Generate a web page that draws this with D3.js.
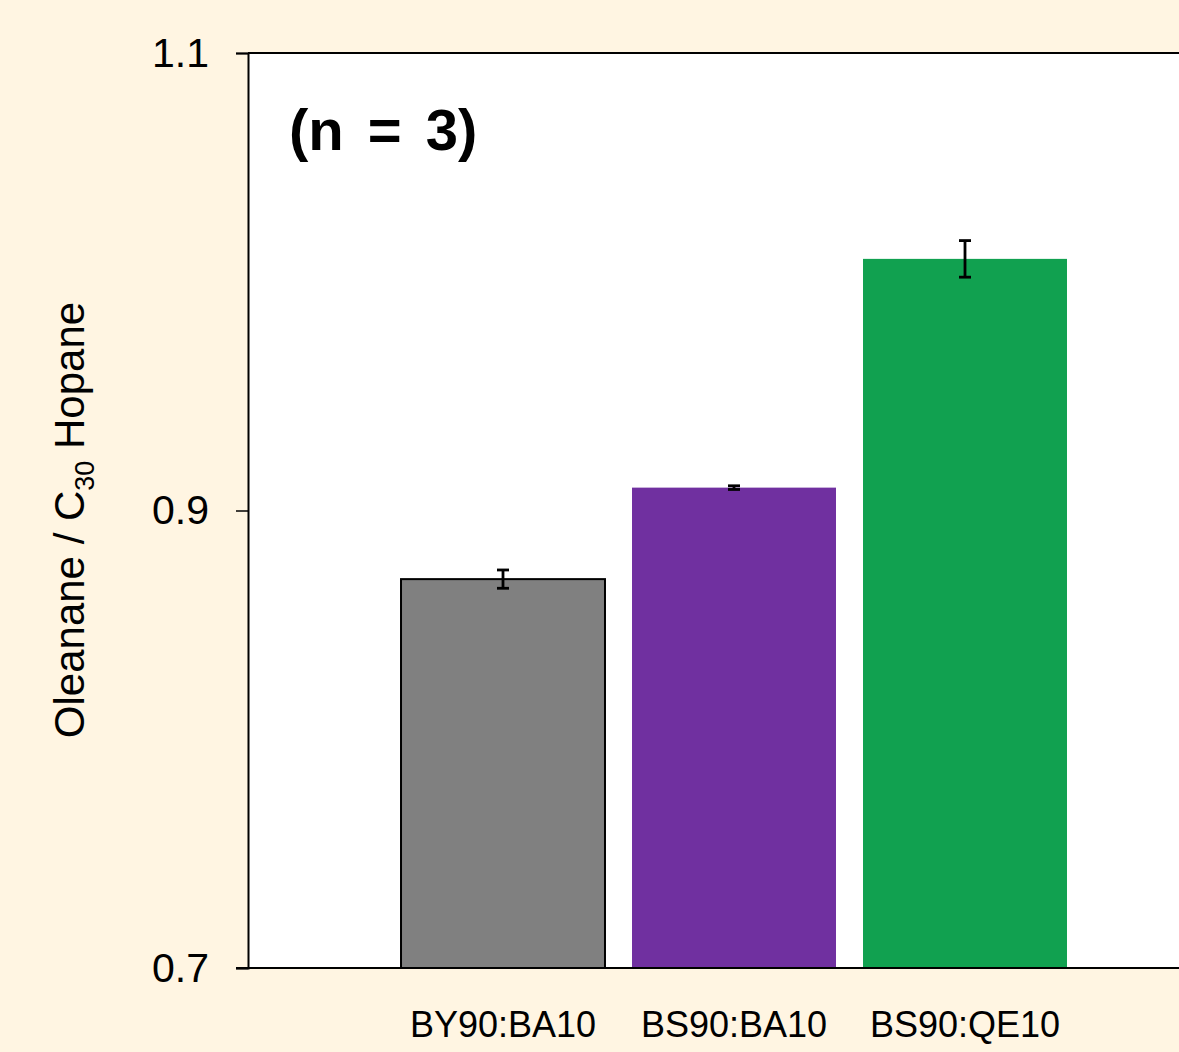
<!DOCTYPE html>
<html>
<head>
<meta charset="utf-8">
<script src="https://cdn.jsdelivr.net/npm/d3@7"></script>
<style>
  html, body { margin: 0; padding: 0; background: #FFF5E2; }
  svg { display: block; }
</style>
</head>
<body>
<div id="chart"></div>
<script>
// data
const categories = ["BY90:BA10", "BS90:BA10", "BS90:QE10"];
const ratios = [0.870, 0.910, 1.010];
const errors = [0.004, 0.0008, 0.008];
const barColors = ["#808080", "#7030A0", "#11A150"];
const yTicks = [0.7, 0.9, 1.1];

const W = 1179, H = 1052;
const plot = { left: 248, top: 53, right: 1179, bottom: 968 };

const svg = d3.select("#chart").append("svg")
    .attr("width", W)
    .attr("height", H);

svg.append("rect")
    .attr("width", W).attr("height", H)
    .attr("fill", "#FFF5E2");

// white plotting area
svg.append("rect")
    .attr("x", plot.left)
    .attr("y", plot.top)
    .attr("width", plot.right - plot.left + 10)
    .attr("height", plot.bottom - plot.top)
    .attr("fill", "#fff");

let y = d3.scaleLinear()
    .domain([0.7, 1.1])
    .range([plot.bottom, plot.top]);

let x = d3.scaleBand()
    .domain(categories)
    .range([387.5, 1080.5])
    .paddingInner(0.117)
    .paddingOuter(0.0585);

// bars
svg.selectAll(".bar")
    .data(categories)
    .enter().append("rect")
    .attr("class", "bar")
    .attr("x", d => x(d))
    .attr("y", (d, i) => y(ratios[i]))
    .attr("width", x.bandwidth())
    .attr("height", (d, i) => y(0.7) - y(ratios[i]))
    .attr("fill", (d, i) => barColors[i])
    .attr("stroke", (d, i) => i === 0 ? "#000" : "none")
    .attr("stroke-width", 2);

// error bars
let eb = svg.selectAll(".err")
    .data(categories)
    .enter().append("g")
    .attr("class", "err")
    .attr("stroke", "#000")
    .attr("stroke-width", 2.8);

eb.append("line")
    .attr("x1", d => x(d) + x.bandwidth() / 2)
    .attr("x2", d => x(d) + x.bandwidth() / 2)
    .attr("y1", (d, i) => y(ratios[i] - errors[i]))
    .attr("y2", (d, i) => y(ratios[i] + errors[i]));

[1, -1].forEach(s => {
    eb.append("line")
        .attr("x1", d => x(d) + x.bandwidth() / 2 - 6)
        .attr("x2", d => x(d) + x.bandwidth() / 2 + 6)
        .attr("y1", (d, i) => y(ratios[i] + s * errors[i]))
        .attr("y2", (d, i) => y(ratios[i] + s * errors[i]));
});

// y axis
let yAxis = d3.axisLeft(y)
    .tickValues(yTicks)
    .tickFormat(d3.format(".1f"))
    .tickSize(12)
    .tickPadding(27);

let gy = svg.append("g")
    .attr("transform", "translate(" + plot.left + ",0)")
    .call(yAxis);

gy.select(".domain").attr("stroke", "#000").attr("stroke-width", 2);
gy.selectAll(".tick line").attr("stroke", "#000").attr("stroke-width", 1.5);
gy.selectAll(".tick text")
    .attr("fill", "#000")
    .style("font-family", "'Liberation Sans', Arial, sans-serif")
    .style("font-size", "41px");

// top border and baseline
svg.append("line")
    .attr("x1", plot.left).attr("x2", W)
    .attr("y1", y(1.1)).attr("y2", y(1.1))
    .attr("stroke", "#000").attr("stroke-width", 2);

svg.append("line")
    .attr("x1", plot.left - 12).attr("x2", W)
    .attr("y1", y(0.7)).attr("y2", y(0.7))
    .attr("stroke", "#000").attr("stroke-width", 2);

// category labels
svg.selectAll(".cat")
    .data(categories)
    .enter().append("text")
    .attr("class", "cat")
    .attr("x", d => x(d) + x.bandwidth() / 2)
    .attr("y", 1037)
    .attr("text-anchor", "middle")
    .style("font-family", "'Liberation Sans Narrow', 'Liberation Sans', Arial, sans-serif")
    .style("font-size", "36px")
    .text(d => d);

// y axis title
let title = svg.append("text")
    .attr("transform", "translate(84,520) rotate(-90)")
    .attr("text-anchor", "middle")
    .style("font-family", "'Liberation Sans', Arial, sans-serif")
    .style("font-size", "42px")
    .attr("fill", "#000");
title.append("tspan").text("Oleanane / C");
title.append("tspan").attr("dy", 10).style("font-size", "27px").text("30");
title.append("tspan").attr("dy", -10).text(" Hopane");

// sample size note
svg.append("text")
    .attr("x", 289)
    .attr("y", 150)
    .style("font-family", "'Liberation Sans', Arial, sans-serif")
    .style("font-size", "58px")
    .style("font-weight", "bold")
    .style("word-spacing", "8px")
    .text("(n = 3)");
</script>
</body>
</html>
